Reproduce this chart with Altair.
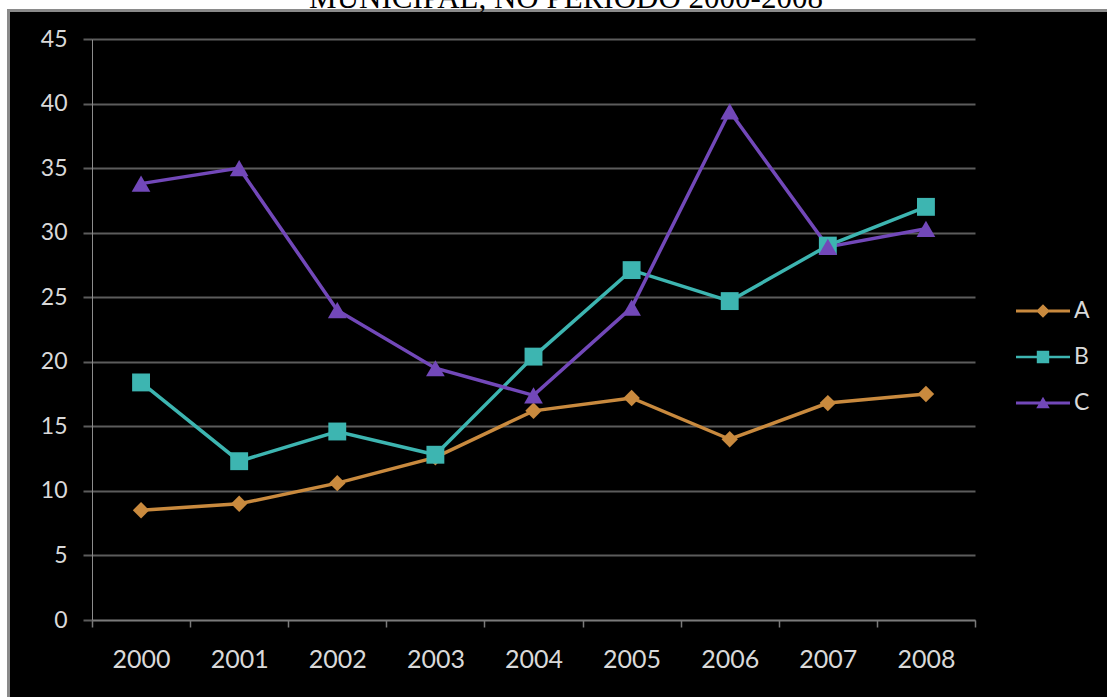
import altair as alt
import pandas as pd

# Anos e valores de cada série
anos = ["2000", "2001", "2002", "2003", "2004", "2005", "2006", "2007", "2008"]
serie_a = [8.5, 9.0, 10.6, 12.6, 16.2, 17.2, 14.0, 16.8, 17.5]
serie_b = [18.4, 12.3, 14.6, 12.8, 20.4, 27.1, 24.7, 29.0, 32.0]
serie_c = [33.8, 35.0, 24.0, 19.5, 17.4, 24.2, 39.4, 28.9, 30.3]
series = ["A", "B", "C"]
ticks_y = [0, 5, 10, 15, 20, 25, 30, 35, 40, 45]
titulo = "MUNICIPAL, NO PERÍODO 2000-2008"

# Estilo
cores = ["#c98a3e", "#3db5b1", "#7248b9"]
marcadores = ["diamond", "square", "triangle-up"]
tamanhos = [270, 320, 350]
# símbolos da legenda: traço horizontal com o marcador no centro
simbolos_legenda = [
    "M-1,-0.06H1V0.06H-1Z M0,-0.25L0.25,0L0,0.25L-0.25,0Z",
    "M-1,-0.05H1V0.05H-1Z M-0.23,-0.23H0.23V0.23H-0.23Z",
    "M-1,-0.06H1V0.06H-1Z M0,-0.23L0.25,0.19L-0.25,0.19Z",
]
cor_texto = "#d9d9d9"
cor_grade = "#5c5c5c"

linhas_df = []
for nome, valores in zip(series, [serie_a, serie_b, serie_c]):
    for ano, v in zip(anos, valores):
        linhas_df.append({"ano": ano, "serie": nome, "valor": v})
df = pd.DataFrame(linhas_df)

W, H = 883, 581
LEFT, TOP = 92, 39

x_enc = alt.X(
    "ano:O", sort=anos,
    scale=alt.Scale(type="band", paddingInner=0, paddingOuter=0),
    axis=alt.Axis(
        title=None, labelAngle=0, tickBand="extent", grid=False,
        domainColor="#7a7a7a", domainWidth=1.5, tickColor="#7a7a7a",
        tickSize=7, tickWidth=1.5, labelColor=cor_texto, labelFont="Lato",
        labelFontSize=25, labelPadding=20,
    ),
)
y_enc = alt.Y(
    "valor:Q",
    scale=alt.Scale(domain=[0, 45], nice=False),
    axis=alt.Axis(
        title=None, values=ticks_y, grid=True, gridColor=cor_grade, gridWidth=2,
        domainColor="#8c8c8c", domainWidth=1, tickColor=cor_grade, tickSize=9,
        tickWidth=2, labelColor=cor_texto, labelFont="Lato", labelFontSize=23,
        labelPadding=16,
    ),
)

base = alt.Chart(df)

# uma linha e um conjunto de marcadores por série
camadas = []
for s, m, t, c in zip(series, marcadores, tamanhos, cores):
    filtrado = base.transform_filter(alt.datum.serie == s)
    camadas.append(filtrado.mark_line(strokeWidth=3.5, color=c).encode(x=x_enc, y=y_enc))
for s, m, t, c in zip(series, marcadores, tamanhos, cores):
    filtrado = base.transform_filter(alt.datum.serie == s)
    camadas.append(
        filtrado.mark_point(shape=m, filled=True, size=t, color=c, opacity=1).encode(x=x_enc, y=y_enc)
    )

leg = dict(
    title=None, orient="none", legendX=924, legendY=257, padding=0,
    symbolSize=2916, symbolStrokeWidth=0, symbolOpacity=1,
    labelFont="Lato", labelFontSize=23, labelColor=cor_texto, labelOffset=4,
    clipHeight=30, rowPadding=16,
)
# camada invisível que só fornece a legenda (linha + marcador)
legenda = base.mark_point(filled=True, opacity=0).encode(
    x=x_enc, y=y_enc,
    color=alt.Color("serie:N", scale=alt.Scale(domain=series, range=cores), legend=alt.Legend(**leg)),
    shape=alt.Shape("serie:N", scale=alt.Scale(domain=series, range=simbolos_legenda), legend=alt.Legend(**leg)),
)

um = pd.DataFrame({"k": [0]})
# moldura: faixa branca superior e esquerda, com borda cinza
faixa_topo = alt.Chart(um).mark_rect(color="white").encode(
    x=alt.value(-LEFT), x2=alt.value(1107), y=alt.value(-TOP), y2=alt.value(9 - TOP))
faixa_esq = alt.Chart(um).mark_rect(color="white").encode(
    x=alt.value(-LEFT), x2=alt.value(7 - LEFT), y=alt.value(-TOP), y2=alt.value(697))
borda_topo = alt.Chart(um).mark_rect(color="#8a8a8a").encode(
    x=alt.value(7 - LEFT), x2=alt.value(1107), y=alt.value(9 - TOP), y2=alt.value(12 - TOP))
borda_esq = alt.Chart(um).mark_rect(color="#8a8a8a").encode(
    x=alt.value(7 - LEFT), x2=alt.value(10 - LEFT), y=alt.value(9 - TOP), y2=alt.value(697))
texto_titulo = alt.Chart(um).mark_text(
    font="Liberation Serif", fontSize=31, color="black", align="center", baseline="alphabetic"
).encode(x=alt.value(566 - LEFT), y=alt.value(7.5 - TOP), text=alt.value(titulo))

chart = alt.layer(
    *camadas, legenda, faixa_topo, faixa_esq, borda_topo, borda_esq, texto_titulo
).properties(
    width=W, height=H,
    padding={"left": LEFT, "top": TOP, "right": 1107 - LEFT - W, "bottom": 697 - TOP - H},
    autosize=alt.AutoSizeParams(type="none"),
    background="black",
).configure_view(strokeWidth=0)

chart.save("out.html", embed_options={"renderer": "svg", "actions": False})
